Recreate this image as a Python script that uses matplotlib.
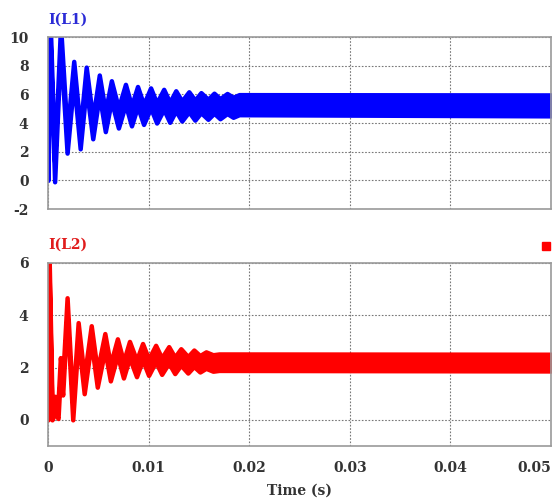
import numpy as np
import matplotlib.pyplot as plt

plt.rcParams['font.family'] = ['DejaVu Serif']
plt.rcParams['axes.unicode_minus'] = False

# I(L1): alternating trough / peak of the switching band (s, A)
t_l1 = [0.0, 0.0002, 0.00066, 0.00125, 0.0019, 0.00256, 0.0032, 0.0038, 0.00445, 0.0051,
        0.0057, 0.0063, 0.0070, 0.0077, 0.0083, 0.0089, 0.0095, 0.0102, 0.0108, 0.0115,
        0.0121, 0.0127, 0.0133, 0.0140, 0.0146, 0.0152, 0.0159, 0.0165, 0.0171, 0.0178,
        0.0184, 0.0190]
i_l1 = [0.0, 11.5, -0.1, 10.8, 1.9, 8.3, 2.2, 7.9, 2.9, 7.35,
        3.4, 6.95, 3.65, 6.7, 3.8, 6.55, 3.9, 6.45, 4.0, 6.35,
        4.05, 6.25, 4.14, 6.18, 4.2, 6.12, 4.26, 6.08, 4.3, 6.06,
        4.4, 5.98]
ripple_l1 = 1.4
l1_end = (0.05, 5.96, 4.5)   # time, band top, band bottom

# I(L2)
t_l2 = [0.0, 0.0001, 0.0004, 0.0007, 0.0010, 0.00123, 0.00146, 0.0019, 0.00246, 0.0030,
        0.0036, 0.0043, 0.0049, 0.00565, 0.0062, 0.0069, 0.0075, 0.0081, 0.0088, 0.0094,
        0.0100, 0.0107, 0.0113, 0.0120, 0.0126, 0.0132, 0.0139, 0.0145, 0.0151, 0.0157,
        0.0164, 0.0170]
i_l2 = [0.0, 6.5, 0.0, 0.9, 0.05, 2.38, 0.95, 4.67, 0.0, 3.72,
        1.0, 3.6, 1.25, 3.3, 1.49, 3.1, 1.6, 3.0, 1.65, 2.92,
        1.7, 2.85, 1.74, 2.8, 1.77, 2.72, 1.79, 2.67, 1.83, 2.6,
        1.86, 2.52]
ripple_l2 = 0.63
l2_end = (0.05, 2.51, 1.87)

x_ticks = [0, 0.01, 0.02, 0.03, 0.04, 0.05]
x_labels = ['0', '0.01', '0.02', '0.03', '0.04', '0.05']
y_ticks_l1 = [-2, 0, 2, 4, 6, 8, 10]
y_ticks_l2 = [0, 2, 4, 6]


def band_edges(t, v, width, end):
    v = np.asarray(v, dtype=float)
    peak = np.arange(len(v)) % 2 == 1
    hi = np.where(peak, v, v + width)
    lo = np.where(peak, v - width, v)
    t = np.append(t, end[0])
    return t, np.append(hi, end[1]), np.append(lo, end[2])


def style_axes(ax, yticks, ylim):
    ax.set_xlim(0, 0.05)
    ax.set_ylim(*ylim)
    ax.set_xticks(x_ticks)
    ax.set_yticks(yticks)
    ax.set_yticklabels([str(y) for y in yticks])
    ax.set_axisbelow(True)
    ax.grid(True, color='#777777', linestyle=(0, (1.5, 1.5)), linewidth=0.8)
    ax.tick_params(length=0, labelsize=10, colors='#333333', pad=14)
    for lab in ax.get_xticklabels() + ax.get_yticklabels():
        lab.set_fontweight('bold')
    for sp in ax.spines.values():
        sp.set_color('#9a9a9a')
        sp.set_linewidth(1.2)


fig = plt.figure(figsize=(5.54, 5.01), dpi=100)
ax1 = fig.add_axes([0.0866, 0.5828, 0.908, 0.3433])
ax2 = fig.add_axes([0.0866, 0.1098, 0.908, 0.3653])

t, hi, lo = band_edges(t_l1, i_l1, ripple_l1, l1_end)
ax1.fill_between(t, lo, hi, color='#0000ff', edgecolor='#0000ff', linewidth=3.2,
                 joinstyle='round')
style_axes(ax1, y_ticks_l1, (-2, 10))
ax1.set_xticklabels([])
ax1.text(0.0, 1.06, 'I(L1)', transform=ax1.transAxes, color='#2b2bd6',
         fontsize=10, fontweight='bold', va='bottom', ha='left')

t, hi, lo = band_edges(t_l2, i_l2, ripple_l2, l2_end)
ax2.fill_between(t, lo, hi, color='#ff0000', edgecolor='#ff0000', linewidth=3.2,
                 joinstyle='round')
style_axes(ax2, y_ticks_l2, (-1, 6))
ax2.set_xticklabels(x_labels)
xlabs = ax2.get_xticklabels()
for lab in xlabs:
    lab.set_fontweight('bold')
xlabs[-1].set_horizontalalignment('right')
ax2.tick_params(axis='x', pad=11)
ax2.set_xlabel('Time (s)', fontsize=10, fontweight='bold', color='#333333', labelpad=6)
ax2.text(0.0, 1.06, 'I(L2)', transform=ax2.transAxes, color='#e01c1c',
         fontsize=10, fontweight='bold', va='bottom', ha='left')
ax2.plot([0.99], [1.093], marker='s', markersize=6, color='#ff0000',
         transform=ax2.transAxes, clip_on=False)

fig.savefig('out.png', dpi=100)
